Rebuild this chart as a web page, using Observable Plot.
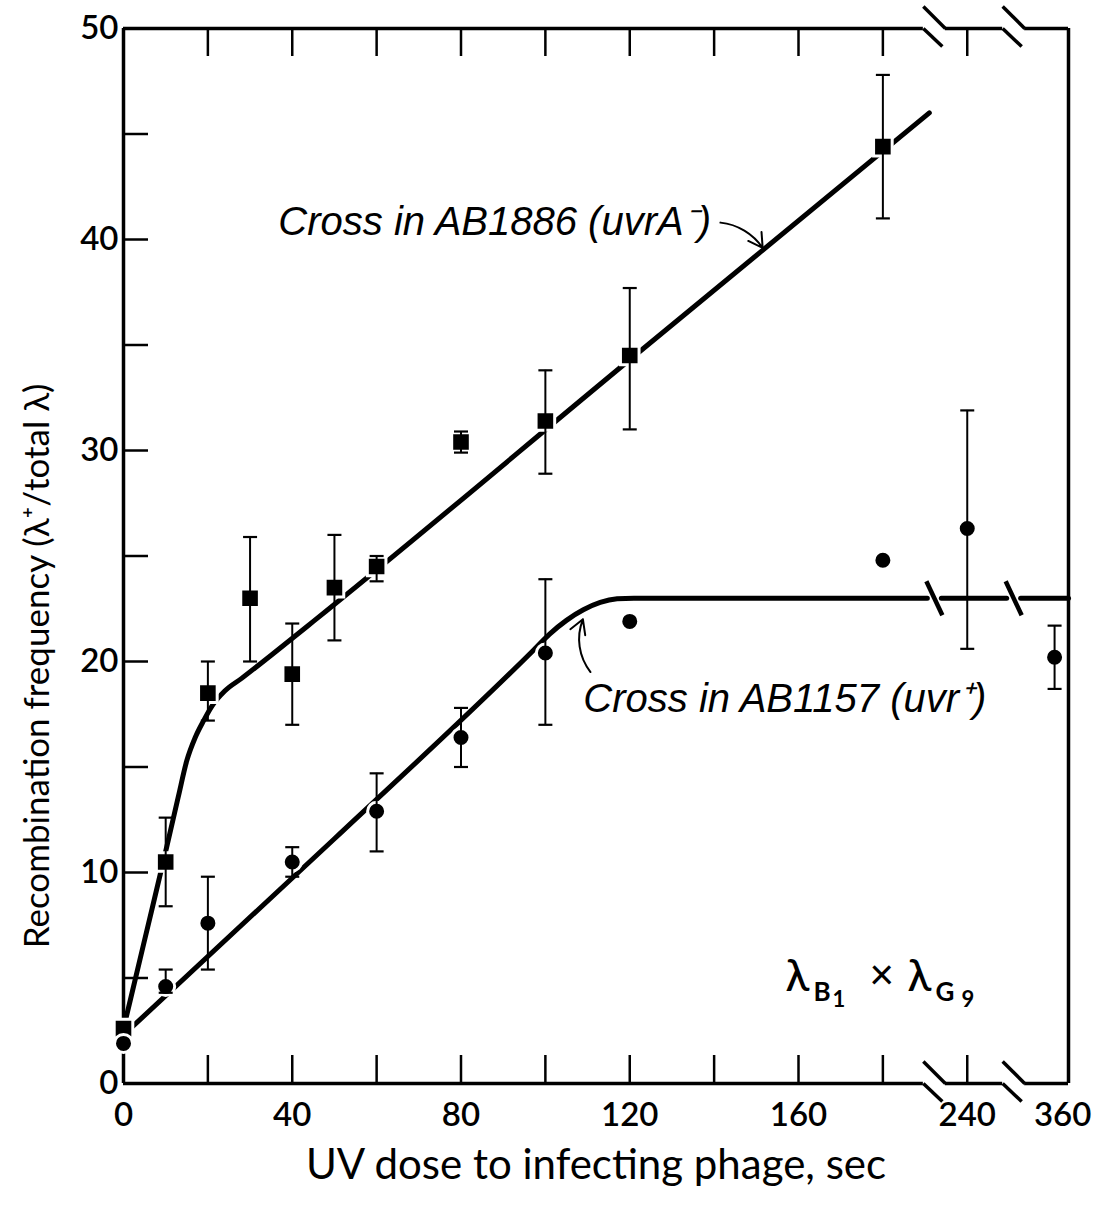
<!DOCTYPE html>
<html><head><meta charset="utf-8">
<script src="https://cdn.jsdelivr.net/npm/d3@7"></script>
<script src="https://cdn.jsdelivr.net/npm/@observablehq/plot@0.6"></script>
<style>body{margin:0;background:#fff;}</style>
</head><body><div id="chart"></div>
<script>
// ---------- data ----------
// Cross in AB1886 (uvrA-) : squares
const doseA = [0, 10, 20, 30, 40, 50, 60, 80, 100, 120, 180];
const freqA = [2.6, 10.5, 18.5, 23.0, 19.4, 23.5, 24.5, 30.4, 31.4, 34.5, 44.4];
const loA   = [null, 8.4, 17.2, 20.0, 17.0, 21.0, 23.8, 29.9, 28.9, 31.0, 41.0];
const hiA   = [null, 12.6, 20.0, 25.9, 21.8, 26.0, 25.0, 30.9, 33.8, 37.7, 47.8];
// Cross in AB1157 (uvr+) : circles
const doseB = [0, 10, 20, 40, 60, 80, 100, 120, 180, 240, 360];
const freqB = [1.9, 4.6, 7.6, 10.5, 12.9, 16.4, 20.4, 21.9, 24.8, 26.3, 20.2];
const loB   = [null, 4.3, 5.4, 9.8, 11.0, 15.0, 17.0, null, null, 20.6, 18.7];
const hiB   = [null, 5.4, 9.8, 11.2, 14.7, 17.8, 23.9, null, null, 31.9, 21.7];
// fitted curves
const fitDoseA = [0, 5, 10, 13, 15, 17, 19, 21, 24, 28, 35, 45, 120, 191];
const fitFreqA = [2.6, 6.8, 11.0, 13.6, 15.3, 16.4, 17.2, 17.9, 18.6, 19.2, 20.3, 21.9, 34.3, 46.0];
const fitDoseB = [0, 50, 97, 101, 105, 109, 113, 117, 121];
const fitFreqB = [2.3, 11.6, 20.5, 21.3, 21.95, 22.45, 22.8, 22.97, 23.0];
const plateauB = 23.0;
// ticks
const xTickDoses = [20, 40, 60, 80, 100, 120, 140, 160, 180, 240];
const xLabelDoses = [0, 40, 80, 120, 160, 240];
const xEdgeLabel = [360];
const yTickVals = [5, 10, 15, 20, 25, 30, 35, 40, 45];
const yLabelVals = [0, 10, 20, 30, 40, 50];

// ---------- layout (broken x axis) ----------
const XMAX = 224;                         // display units at right frame
const brokenPos = {240: 200, 360: 220.7}; // display position of doses beyond the breaks
const xpos = d => (d in brokenPos ? brokenPos[d] : d);
const breaks = [192.2, 211];
const ML = 123, MR = 37, MT = 28, MB = 124, W = 1105, H = 1207;
const ux = XMAX / (W - ML - MR);        // display units per pixel (x)
const uy = 50 / (H - MT - MB);          // data units per pixel (y)
const G = 11 * ux;

const rowsA = doseA.map((d, i) => ({x: xpos(d), y: freqA[i], lo: loA[i], hi: hiA[i]}));
const rowsB = doseB.map((d, i) => ({x: xpos(d), y: freqB[i], lo: loB[i], hi: hiB[i]}));
const errRows = [...rowsA, ...rowsB].filter(r => r.lo != null);
const capRows = errRows.flatMap(r => [{x: r.x, y: r.lo}, {x: r.x, y: r.hi}]);
const fitA = fitDoseA.map((d, i) => ({x: d, y: fitFreqA[i], z: "a"}));
const cg = 7 * ux;
const fitB = [
  ...fitDoseB.map((d, i) => ({x: d, y: fitFreqB[i], z: "b1"})),
  {x: breaks[0] - cg, y: plateauB, z: "b1"},
  {x: breaks[0] + cg, y: plateauB, z: "b2"}, {x: breaks[1] - cg, y: plateauB, z: "b2"},
  {x: breaks[1] + cg, y: plateauB, z: "b3"}, {x: XMAX, y: plateauB, z: "b3"}
];
const curveSlashes = breaks.map(b => ({x1: b - 8 * ux, y1: plateauB + 17 * uy, x2: b + 8 * ux, y2: plateauB - 17 * uy}));

const hSegs = [[0, breaks[0] - G], [breaks[0] + G, breaks[1] - G], [breaks[1] + G, XMAX]];
const frameRows = [50, 0].flatMap(y => hSegs.map(([a, b]) => ({x1: a, x2: b, y})));
const frameSlashes = [50, 0].flatMap(y => breaks.flatMap(b => [
  {x1: b - G, y1: y + 22 * uy, x2: b + G, y2: y},
  {x1: b - G, y1: y, x2: b + 8 * ux, y2: y - 18 * uy}
]));

const capSymbol = {draw(ctx, size) { const r = Math.sqrt(size / Math.PI); ctx.moveTo(-r, 0); ctx.lineTo(r, 0); }};

// annotations
const noteA = [{x: 36.7, y: 40.2, text: "Cross in AB1886 (uvrA\u207B)"}];
const noteB = [{x: 109.0, y: 17.6, text: "Cross in AB1157 (uvr\u207A)"}];
const arrowA = [{x1: 141.5, y1: 40.8, x2: 151.5, y2: 39.6}];
const arrowB = [{x1: 110.7, y1: 19.5, x2: 108.9, y2: 22.0}];
const lamAnchor = [{x: 156.9, y: 4.4}];
const lamPieces = [
  {t: "\u03BB", dx: 0, dy: 0, size: 44, weight: 500},
  {t: "B", dx: 28, dy: 10, size: 26, weight: 700},
  {t: "1", dx: 47, dy: 16, size: 22, weight: 700},
  {t: "\u00D7", dx: 84, dy: -2, size: 42, weight: 500},
  {t: "\u03BB", dx: 122, dy: 0, size: 44, weight: 500},
  {t: "G", dx: 150, dy: 10, size: 26, weight: 700},
  {t: "9", dx: 176, dy: 16, size: 22, weight: 700}
];

const FONT = "Lato, 'Open Sans', sans-serif";
const IT = "'Liberation Sans', Arial, sans-serif";

const chart = Plot.plot({
  width: W, height: H,
  marginLeft: ML, marginRight: MR, marginTop: MT, marginBottom: MB,
  style: {fontFamily: FONT, background: "white", color: "black"},
  x: {domain: [0, XMAX], axis: null},
  y: {domain: [0, 50], axis: null},
  marks: [
    // frame
    Plot.ruleX([0, XMAX], {y1: 0, y2: 50, strokeWidth: 3.5}),
    Plot.ruleY(frameRows, {x1: "x1", x2: "x2", y: "y", strokeWidth: 3.5}),
    Plot.link(frameSlashes, {x1: "x1", y1: "y1", x2: "x2", y2: "y2", strokeWidth: 3.5}),
    // inward ticks
    Plot.axisY({ticks: yTickVals, tickSize: -25, tickFormat: () => "", strokeWidth: 2.5}),
    Plot.axisX({anchor: "bottom", ticks: xTickDoses.map(xpos), tickSize: -28, tickFormat: () => "", strokeWidth: 2.5}),
    Plot.axisX({anchor: "top", ticks: xTickDoses.map(xpos), tickSize: -27, tickFormat: () => "", strokeWidth: 2.5}),
    // tick labels
    Plot.axisY({ticks: yLabelVals, tickSize: 0, tickPadding: 5, label: null, fontSize: 33, fontWeight: 600}),
    Plot.axisX({anchor: "bottom", ticks: xLabelDoses.map(xpos), tickSize: 0, tickPadding: 19, label: null,
      tickFormat: u => xLabelDoses[xLabelDoses.map(xpos).indexOf(u)], fontSize: 33, fontWeight: 600}),
    Plot.axisX({anchor: "bottom", ticks: xEdgeLabel.map(xpos), tickSize: 0, tickPadding: 19, label: null, dx: 8,
      tickFormat: () => String(xEdgeLabel[0]), fontSize: 33, fontWeight: 600}),
    // axis titles
    Plot.text(["UV dose to infecting phage, sec"], {frameAnchor: "bottom", lineAnchor: "bottom", dy: 95, fontSize: 42}),
    Plot.text(["Recombination frequency (\u03BB\u207A/total \u03BB)"], {frameAnchor: "left", textAnchor: "middle", lineAnchor: "bottom", rotate: -90, dx: -75, dy: 110, fontSize: 35}),
    // fitted curves
    Plot.line(fitA, {x: "x", y: "y", z: "z", curve: "monotone-x", strokeWidth: 5}),
    Plot.line(fitB, {x: "x", y: "y", z: "z", curve: "monotone-x", strokeWidth: 5}),
    Plot.link(curveSlashes, {x1: "x1", y1: "y1", x2: "x2", y2: "y2", strokeWidth: 4.5}),
    // points
    Plot.dot(rowsA, {x: "x", y: "y", symbol: "square", r: 10.5, fill: "black", stroke: "white", strokeWidth: 3}),
    Plot.dot(rowsB, {x: "x", y: "y", symbol: "circle", r: 9, fill: "black", stroke: "white", strokeWidth: 3}),
    // error bars
    Plot.ruleX(errRows, {x: "x", y1: "lo", y2: "hi", strokeWidth: 2}),
    Plot.dot(capRows, {x: "x", y: "y", symbol: capSymbol, r: 7, stroke: "black", strokeWidth: 2.2, fill: "none"}),
    // annotations
    Plot.text(noteA, {x: "x", y: "y", text: "text", textAnchor: "start", lineAnchor: "bottom", fontSize: 40, fontStyle: "italic", fontFamily: IT}),
    Plot.text(noteB, {x: "x", y: "y", text: "text", textAnchor: "start", lineAnchor: "bottom", fontSize: 40, fontStyle: "italic", fontFamily: IT}),
    Plot.arrow(arrowA, {x1: "x1", y1: "y1", x2: "x2", y2: "y2", bend: 25, headLength: 12, strokeWidth: 2}),
    Plot.arrow(arrowB, {x1: "x1", y1: "y1", x2: "x2", y2: "y2", bend: 30, headLength: 12, strokeWidth: 2}),
    ...lamPieces.map(p => Plot.text(lamAnchor, {x: "x", y: "y", text: () => p.t, dx: p.dx, dy: p.dy, fontSize: p.size, fontWeight: p.weight, textAnchor: "start", lineAnchor: "bottom"}))
  ]
});
document.getElementById("chart").appendChild(chart);
</script>
</body></html>
